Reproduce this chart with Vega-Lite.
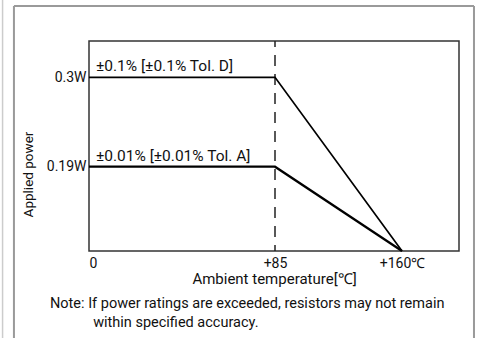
{
  "$schema": "https://vega.github.io/schema/vega-lite/v6.json",
  "width": 370,
  "height": 210,
  "autosize": {"type": "none"},
  "padding": {"left": 89, "top": 41, "right": 18, "bottom": 87},
  "background": "white",
  "config": {
    "font": "Roboto",
    "view": {"stroke": "#333333", "strokeWidth": 1.5},
    "axis": {"grid": false, "ticks": false, "domain": false, "labelColor": "#111111", "titleColor": "#111111", "titleFontWeight": "normal", "labelFontSize": 14, "titleFontSize": 15}
  },
  "datasets": {
    "curves": [
      {"temp": 0, "power": 0.3, "series": "D"},
      {"temp": 85, "power": 0.3, "series": "D"},
      {"temp": 160, "power": 0, "series": "D"},
      {"temp": 0, "power": 0.19, "series": "A"},
      {"temp": 85, "power": 0.19, "series": "A"},
      {"temp": 160, "power": 0, "series": "A"}
    ],
    "labels": [
      {"temp": 0, "power": 0.3, "label": "±0.1% [±0.1% Tol. D]"},
      {"temp": 0, "power": 0.19, "label": "±0.01% [±0.01% Tol. A]"}
    ],
    "marker": [{"temp": 85}],
    "frame": [{"part": "frame"}]
  },
  "title": {
    "text": ["Note: If power ratings are exceeded, resistors may not remain", "\u200b\u00a0\u00a0\u00a0\u00a0\u00a0\u00a0\u00a0\u00a0\u00a0\u00a0\u00a0\u00a0within specified accuracy."],
    "orient": "bottom",
    "anchor": "start",
    "frame": "group",
    "dx": -39,
    "offset": -48,
    "fontSize": 14.5,
    "fontWeight": "normal",
    "color": "#111111",
    "lineHeight": 19
  },
  "layer": [
    {
      "data": {"name": "marker"},
      "mark": {"type": "rule", "color": "#222222", "strokeWidth": 1.5, "strokeDash": [11, 8], "strokeDashOffset": 5},
      "encoding": {
        "x": {"field": "temp", "type": "quantitative",
          "scale": {"type": "linear", "domain": [0, 85, 160, 195], "range": [0, 186, 313, 370], "nice": false, "zero": false},
          "axis": {"values": [0, 85, 160], "labelExpr": "datum.value == 0 ? '0' : datum.value == 160 ? '+160℃' : '+' + datum.value", "labelPadding": 5, "title": "Ambient temperature[℃]", "titlePadding": 1}
        }
      }
    },
    {
      "data": {"name": "curves"},
      "transform": [{"filter": "datum.series == 'D'"}],
      "mark": {"type": "line", "color": "#000000", "strokeWidth": 1.7},
      "encoding": {
        "x": {"field": "temp", "type": "quantitative"},
        "y": {"field": "power", "type": "quantitative",
          "scale": {"type": "linear", "domain": [0, 0.19, 0.3, 0.345], "range": [210, 125.7, 36.3, 0], "nice": false, "zero": false},
          "axis": {"values": [0.19, 0.3], "labelExpr": "datum.value + 'W'", "labelPadding": 3, "title": "Applied power", "titleFontSize": 13.5, "titleAngle": -90, "titleAlign": "center", "titleBaseline": "alphabetic", "titleX": -57, "titleY": 133}
        }
      }
    },
    {
      "data": {"name": "curves"},
      "transform": [{"filter": "datum.series == 'A'"}],
      "mark": {"type": "line", "color": "#000000", "strokeWidth": 2.3},
      "encoding": {
        "x": {"field": "temp", "type": "quantitative"},
        "y": {"field": "power", "type": "quantitative"}
      }
    },
    {
      "data": {"name": "labels"},
      "mark": {"type": "text", "align": "left", "baseline": "alphabetic", "dx": 7, "dy": -6, "fontSize": 15.5, "color": "#111111"},
      "encoding": {
        "x": {"field": "temp", "type": "quantitative"},
        "y": {"field": "power", "type": "quantitative"},
        "text": {"field": "label"}
      }
    },
    {
      "data": {"name": "frame"},
      "mark": {"type": "rule", "color": "#9a9a9a", "strokeWidth": 2, "clip": false},
      "encoding": {
        "x": {"datum": -34.3, "type": "quantitative"},
        "y": {"datum": 0.3884, "type": "quantitative"},
        "y2": {"datum": -0.21}
      }
    },
    {
      "data": {"name": "frame"},
      "mark": {"type": "rule", "color": "#9a9a9a", "strokeWidth": 2, "clip": false},
      "encoding": {
        "x": {"datum": 204.2, "type": "quantitative"},
        "y": {"datum": 0.3884, "type": "quantitative"},
        "y2": {"datum": -0.21}
      }
    },
    {
      "data": {"name": "frame"},
      "mark": {"type": "rule", "color": "#9a9a9a", "strokeWidth": 2, "clip": false},
      "encoding": {
        "y": {"datum": 0.3884, "type": "quantitative"},
        "x": {"datum": -34.3, "type": "quantitative"},
        "x2": {"datum": 204.2}
      }
    },
    {
      "data": {"name": "frame"},
      "mark": {"type": "rule", "color": "#cccccc", "strokeWidth": 1.5, "clip": false},
      "encoding": {
        "x": {"datum": -39.5, "type": "quantitative"},
        "y": {"datum": 0.45, "type": "quantitative"},
        "y2": {"datum": -0.21}
      }
    }
  ]
}
